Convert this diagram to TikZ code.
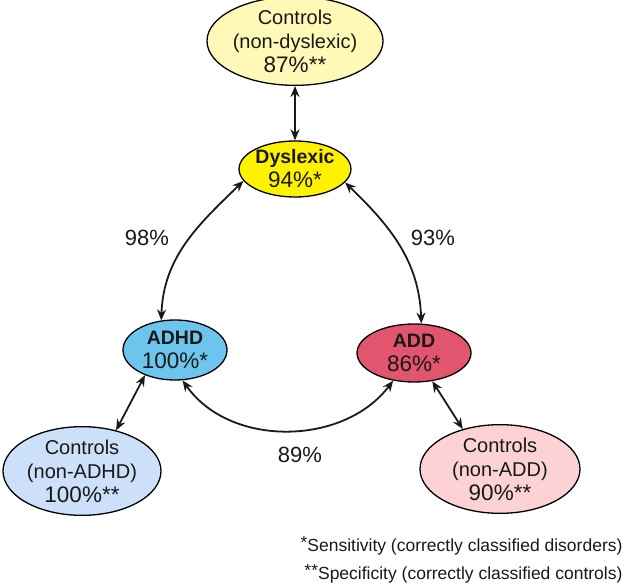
\documentclass[tikz,border=0pt]{standalone}
\usepackage{fontspec}
\setmainfont{Liberation Sans}
\usetikzlibrary{shapes.geometric,arrows.meta}
\definecolor{ctlyel}{HTML}{FFF9B8}
\definecolor{dysyel}{HTML}{FFF200}
\definecolor{adhdblue}{HTML}{6DC5EE}
\definecolor{addred}{HTML}{E2556E}
\definecolor{ctlblue}{HTML}{CCE0FA}
\definecolor{ctlpink}{HTML}{FCD2D4}
\newcommand{\lab}{\fontsize{20}{24}\selectfont}
\newcommand{\pct}{\fontsize{22.5}{24}\selectfont}
\newcommand{\nm}{\fontsize{19.5}{24}\selectfont\bfseries}
\tikzset{
  ell/.style={ellipse, draw=black, line width=1.3pt, inner sep=0pt, align=center,
    text=black!90, font=\fontsize{20}{24}\selectfont},
  dbl/.style={{Stealth[length=11pt,width=9pt]}-{Stealth[length=11pt,width=9pt]}, line width=1.8pt, black!90},
  elab/.style={font=\fontsize{22}{24}\selectfont, text=black!90},
}
\begin{document}
\begin{tikzpicture}[x=1pt,y=1pt]
\useasboundingbox (0,0) rectangle (630,-583);
\node[ell, fill=ctlyel, minimum width=162pt, minimum height=82pt] (ctop) at (295,-41)
  {\lab Controls\\ \lab (non-dyslexic)\\ \pct 87\%**};
\node[ell, fill=dysyel, minimum width=110pt, minimum height=56pt] (dys) at (295,-169)
  {\nm Dyslexic\\ \pct 94\%*};
\node[ell, fill=adhdblue, minimum width=104pt, minimum height=60pt] (adhd) at (175,-350)
  {\nm ADHD\\ \pct 100\%*};
\node[ell, fill=addred, minimum width=114pt, minimum height=58pt] (add) at (414,-353)
  {\nm ADD\\ \pct 86\%*};
\node[ell, fill=ctlblue, minimum width=158pt, minimum height=79pt] (ctla) at (82,-471)
  {\lab Controls\\ \lab (non-ADHD)\\ \pct 100\%**};
\node[ell, fill=ctlpink, minimum width=160pt, minimum height=82pt] (ctlb) at (500,-469)
  {\lab Controls\\ \lab (non-ADD)\\ \pct 90\%**};

\draw[dbl] (ctop) -- (dys);
\draw[dbl] (dys.193) to[out=224, in=88] (adhd.115);
\draw[dbl] (dys.345) to[out=-44, in=92] (add.76);
\draw[dbl] (adhd.284) to[out=-55, in=-127] (add.233);
\draw[dbl] (adhd.220) -- (ctla.50);
\draw[dbl] (add.303) -- (ctlb.133);

\node[elab] (l98) at (147,-238) {98\%};
\node[elab] (l93) at (433,-238) {93\%};
\node[elab] (l89) at (300,-455) {89\%};

\node[anchor=east, align=right, font=\fontsize{17.5}{28}\selectfont, text=black!90] (fn) at (626,-560)
  {\raisebox{3pt}{*}Sensitivity (correctly classified disorders)\\ \raisebox{3pt}{**}Specificity (correctly classified controls)};
\end{tikzpicture}
\end{document}
